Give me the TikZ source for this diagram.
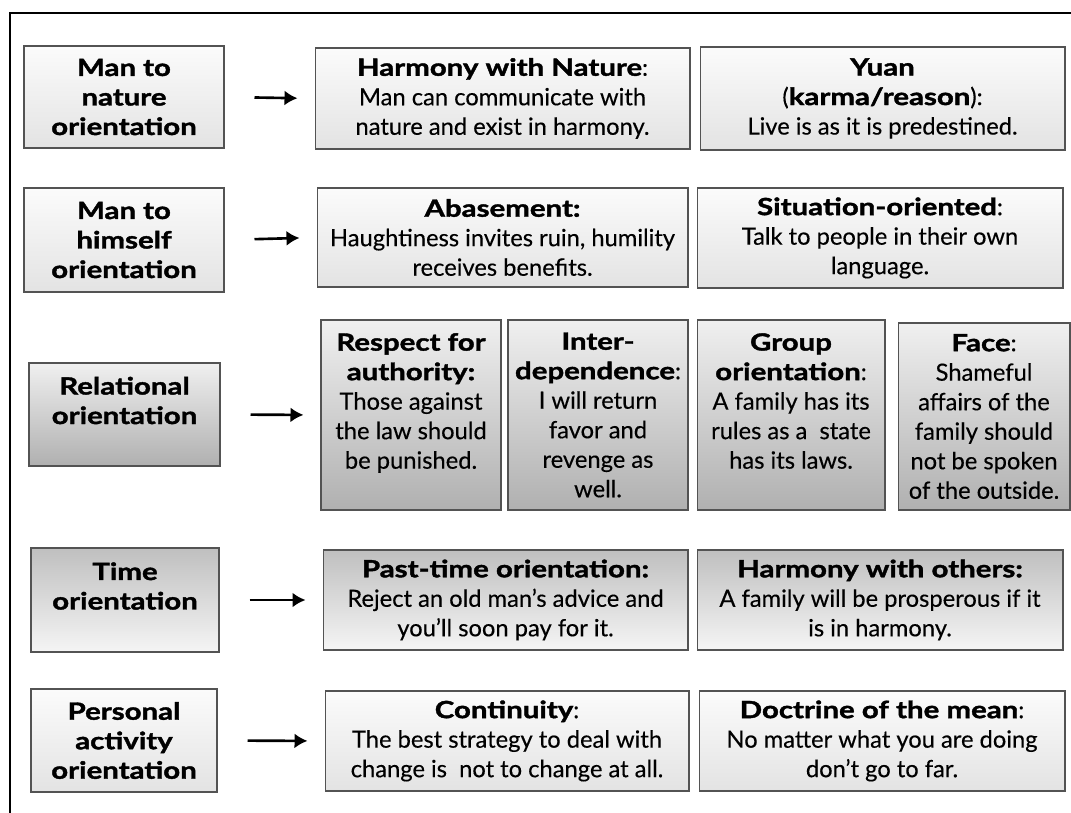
\documentclass[tikz,border=0pt]{standalone}
\usepackage{fontspec}
\setmainfont{Lato}[UprightFeatures={FakeBold=0.3}, BoldFeatures={FakeBold=1.6, FakeStretch=1.24}]
\usetikzlibrary{arrows.meta}

\begin{document}
\begin{tikzpicture}[x=0.02cm, y=-0.02cm]
    \tikzset{box/.style={draw=gray!65!black, line width=0.6pt, align=center, inner sep=1pt,
                         font=\fontsize{13.5}{16.8}\selectfont},
             lite/.style={box, top color=gray!3, bottom color=gray!22},
             dark/.style={box, top color=gray!12, bottom color=gray!62},
             mid/.style={box, top color=gray!50, bottom color=gray!8},
             raised/.style={text depth=16pt},
             arr/.style={-{Latex[length=2.6mm, width=3mm]}, line width=1.5pt,
                         shorten <=0.6cm, shorten >=0.34cm}}
    \useasboundingbox (0,0) rectangle (1071,813);
    \draw[line width=1.5pt] (1071,13) -- (10,13) -- (10,813);

    % ---- Row 1: man to nature ----
    \node[lite, minimum width=4cm, minimum height=2.04cm] (a1) at (124,97)
        {\textbf{Man to}\\\textbf{nature}\\\textbf{orientation}};
    \node[lite, minimum width=7.5cm, minimum height=2.02cm] (b1) at (502.5,98.5)
        {\textbf{Harmony with Nature}:\\Man can communicate with\\nature and exist in harmony.};
    \node[lite, minimum width=7.3cm, minimum height=2.06cm] (c1) at (882.5,98.5)
        {\textbf{Yuan}\\(\textbf{karma/reason}):\\Live is as it is predestined.};

    % ---- Row 2: man to himself ----
    \node[lite, minimum width=4cm, minimum height=2.08cm] (a2) at (124,240)
        {\textbf{Man to}\\\textbf{himself}\\\textbf{orientation}};
    \node[lite, minimum width=7.42cm, minimum height=1.98cm] (b2) at (502.5,237.5)
        {\textbf{Abasement:}\\Haughtiness invites ruin, humility\\receives benefits.};
    \node[lite, minimum width=7.32cm, minimum height=2cm] (c2) at (880,238)
        {\textbf{Situation-oriented}:\\Talk to people in their own\\language.};

    % ---- Row 3: relational ----
    \node[dark, raised, minimum width=3.82cm, minimum height=2.06cm] (a3) at (124.5,414.5)
        {\textbf{Relational}\\\textbf{orientation}};
    \node[dark, raised, minimum width=3.6cm, minimum height=3.8cm] (r1) at (411,415)
        {\textbf{Respect for}\\\textbf{authority:}\\Those against\\the law should\\be punished.};
    \node[dark, minimum width=3.6cm, minimum height=3.8cm] (r2) at (598,415)
        {\textbf{Inter-}\\\textbf{dependence}:\\I will return\\favor and\\revenge as\\well.};
    \node[dark, raised, minimum width=3.76cm, minimum height=3.8cm] (r3) at (791,415)
        {\textbf{Group}\\\textbf{orientation}:\\A family has its\\rules as a~ state\\has its laws.};
    \node[dark, minimum width=3.44cm, minimum height=3.74cm] (r4) at (984,416.5)
        {\textbf{Face}:\\Shameful\\affairs of the\\family should\\not be spoken\\of the outside.};

    % ---- Row 4: time ----
    \node[mid, raised, minimum width=3.76cm, minimum height=2.08cm] (a4) at (125,600)
        {\textbf{Time}\\\textbf{orientation}};
    \node[mid, minimum width=7.3cm, minimum height=2cm] (b4) at (505.5,600)
        {\textbf{Past-time orientation:}\\Reject an old man's advice and\\you'll soon pay for it.};
    \node[mid, minimum width=7.32cm, minimum height=2cm] (c4) at (880,600)
        {\textbf{Harmony with others:}\\A family will be prosperous if it\\is in harmony.};

    % ---- Row 5: personal activity ----
    \node[lite, minimum width=3.72cm, minimum height=2.06cm] (a5) at (124,740.5)
        {\textbf{Personal}\\\textbf{activity}\\\textbf{orientation}};
    \node[lite, minimum width=7.28cm, minimum height=2cm] (b5) at (507,741)
        {\textbf{Continuity}:\\The best strategy to deal with\\change is~ not to change at all.};
    \node[lite, minimum width=7.32cm, minimum height=2cm] (c5) at (882,741)
        {\textbf{Doctrine of the mean}:\\No matter what you are doing\\don't go to far.};

    % ---- Arrows ----
    \draw[arr] (a1.east) -- (b1.west);
    \draw[arr] (a2.east) -- (b2.west);
    \draw[arr] (a3.east) -- (r1.west);
    \draw[arr] (a4.east) -- (b4.west);
    \draw[arr] (a5.east) -- (b5.west);
\end{tikzpicture}
\end{document}
